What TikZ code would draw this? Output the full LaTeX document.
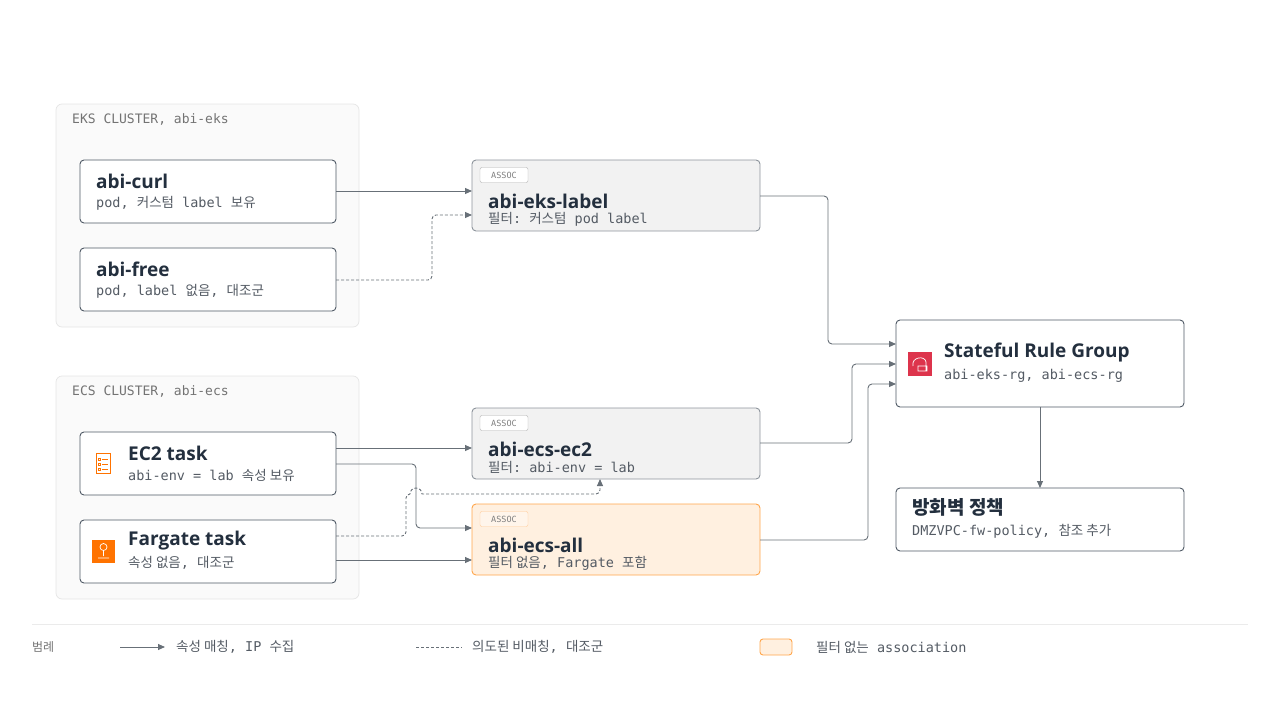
\documentclass[tikz,border=0pt]{standalone}
\usepackage{fontspec}
\setmainfont{Open Sans}
\setmonofont{DejaVu Sans Mono}
\newfontfamily\kr{Noto Sans CJK KR}
\newcommand{\K}[1]{{\kr #1}}
\usetikzlibrary{arrows.meta}
\definecolor{ink}{HTML}{232F3E}
\definecolor{sub}{HTML}{545B64}
\definecolor{ln}{HTML}{687078}
\definecolor{bd}{HTML}{8D949C}
\definecolor{rgred}{HTML}{DD344C}
\begin{document}
\begin{tikzpicture}[x=1pt,y=-1pt,
 cl/.style={draw=black!10,fill=black!2,rounded corners=6pt,line width=0.7pt},
 box/.style={draw=ink!80,fill=white,rounded corners=4pt,line width=0.9pt},
 asc/.style={draw=bd,fill=black!5,rounded corners=4pt,line width=0.9pt},
 tag/.style={draw=black!30,fill=white,rounded corners=2pt,minimum width=48pt,minimum height=15pt,inner sep=0pt,font=\ttfamily\fontsize{8.5}{8.5}\selectfont,text=black!50},
 ttl/.style={anchor=west,inner sep=0pt,font=\bfseries\fontsize{19}{19}\selectfont,text=ink},
 st/.style={anchor=west,inner sep=0pt,font=\ttfamily\fontsize{13.5}{13.5}\selectfont,text=sub},
 clt/.style={anchor=west,inner sep=0pt,font=\ttfamily\fontsize{13}{13}\selectfont,text=black!55},
 lgt/.style={st,font=\ttfamily\fontsize{13.5}{13.5}\selectfont},
 ar/.style={draw=ln,line width=0.9pt,-{Triangle[length=7pt,width=6pt]}},
 da/.style={ar,dashed,dash pattern=on 3pt off 2pt}]
\useasboundingbox (0,0) rectangle (1280,720);
% clusters
\draw[cl] (56,104) rectangle (359,327);
\node[clt] (eksl) at (72,119) {EKS CLUSTER, abi-eks};
\draw[cl] (56,376) rectangle (359,599);
\node[clt] (ecsl) at (72,391) {ECS CLUSTER, abi-ecs};
% pods
\draw[box] (80,160) rectangle (336,223);
\node[ttl] (t1) at (96,181) {abi-curl};
\node[st] (s1) at (96,203) {pod, \K{커스텀} label \K{보유}};
\draw[box] (80,248) rectangle (336,311);
\node[ttl] (t2) at (96,269) {abi-free};
\node[st] (s2) at (96,291) {pod, label \K{없음}, \K{대조군}};
\draw[box] (80,432) rectangle (336,495);
\node[ttl] (t3) at (128,453) {EC2 task};
\node[st] (s3) at (128,475) {abi-env = lab \K{속성 보유}};
\draw[box] (80,520) rectangle (336,583);
\node[ttl] (t4) at (128,541) {Fargate task};
\node[st] (s4) at (128,563) {\K{속성 없음}, \K{대조군}};
% assocs
\draw[asc] (472,160) rectangle (760,231);
\node[tag] (g1) at (504,175) {ASSOC};
\node[ttl] (a1) at (488,201) {abi-eks-label};
\node[st] (b1) at (488,219) {\K{필터}: \K{커스텀} pod label};
\draw[asc] (472,408) rectangle (760,479);
\node[tag] (g2) at (504,423) {ASSOC};
\node[ttl] (a2) at (488,449) {abi-ecs-ec2};
\node[st] (b2) at (488,467) {\K{필터}: abi-env = lab};
\draw[asc,draw=orange!70,fill=orange!12] (472,504) rectangle (760,575);
\node[tag,draw=orange!40,fill=orange!8] (g3) at (504,519) {ASSOC};
\node[ttl] (a3) at (488,545) {abi-ecs-all};
\node[st] (b3) at (488,563) {\K{필터 없음}, Fargate \K{포함}};
% right
\draw[box] (896,320) rectangle (1184,407);
\node[ttl] (rg) at (944,353) {Stateful Rule Group};
\node[st] (rgs) at (944,376) {abi-eks-rg, abi-ecs-rg};
\draw[box] (896,488) rectangle (1184,551);
\node[ttl,font=\kr\bfseries\fontsize{19}{19}\selectfont] (fw) at (912,507) {방화벽 정책};
\node[st] (fws) at (912,531) {DMZVPC-fw-policy, \K{참조 추가}};
% icons
\begin{scope}[draw=orange!90!red,line width=0.9pt]
\draw (96,453) rectangle (110,473);
\foreach \y in {458,463,468}{\draw (98,\y) rectangle (100.5,\y+2.5); \draw (102,\y+1.2)--(108,\y+1.2);}
\end{scope}
\fill[orange!90!red] (92,540) rectangle (115,563);
\draw[white,line width=0.7pt] (103.5,547) circle (3.5) (98,558)--(109,558) (103.5,550.5)--(103.5,556);
\fill[rgred] (908,352) rectangle (932,376);
\draw[white,line width=0.7pt] (913,366) .. controls (911,357) and (925,355) .. (926,362) -- (926,371) -- (918,371) (918,366) rectangle (927,371);
% connectors
\draw[ar] (336,191) -- (472,191);
\draw[da,rounded corners=4pt] (336,280) -- (432,280) -- (432,215) -- (472,215);
\draw[ar,rounded corners=4pt] (760,196) -- (828,196) -- (828,344) -- (896,344);
\draw[ar] (336,448) -- (472,448);
\draw[ar,rounded corners=4pt] (336,464) -- (416,464) -- (416,528) -- (472,528);
\draw[ar] (336,560) -- (472,560);
\draw[da] (336,536) -- (402,536) arc[start angle=90,end angle=0,radius=4] -- (406,498) arc[start angle=180,end angle=270,radius=4] -- (410,494) arc[start angle=180,end angle=360,radius=6] -- (596,494) arc[start angle=90,end angle=0,radius=4] -- (600,479);
\draw[ar,rounded corners=4pt] (760,443) -- (852,443) -- (852,364) -- (896,364);
\draw[ar,rounded corners=4pt] (760,540) -- (868,540) -- (868,384) -- (896,384);
\draw[ar] (1040,407) -- (1040,488);
% legend
\draw[black!8,line width=0.7pt] (32,624) -- (1248,624);
\node[anchor=west,inner sep=0pt,font=\kr\fontsize{12}{12}\selectfont,text=black!55] (lg) at (32,647) {범례};
\draw[ar] (120,647) -- (165,647);
\node[lgt] (l1) at (176,647) {\K{속성 매칭}, IP \K{수집}};
\draw[da,-] (416,647) -- (462,647);
\node[lgt] (l2) at (472,647) {\K{의도된 비매칭}, \K{대조군}};
\draw[draw=orange!70,fill=orange!12,rounded corners=3pt,line width=0.9pt] (760,639) rectangle (792,655);
\node[lgt] (l3) at (816,647) {\K{필터 없는} association};
\end{tikzpicture}
\end{document}
